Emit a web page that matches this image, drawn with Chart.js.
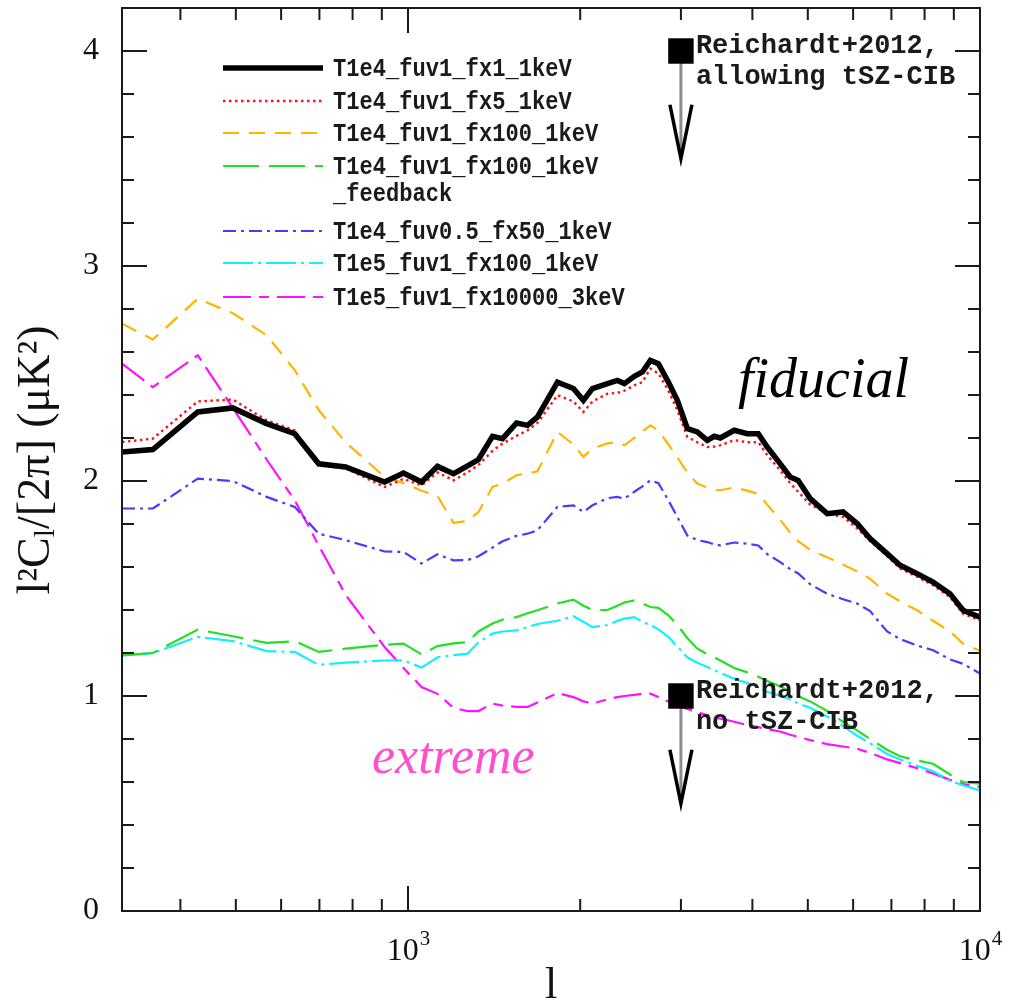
<!DOCTYPE html>
<html>
<head>
<meta charset="utf-8">
<script src="https://cdn.jsdelivr.net/npm/chart.js@4.4.1/dist/chart.umd.min.js"></script>
<style>
html, body { margin: 0; padding: 0; background: #fff; }
</style>
</head>
<body>
<canvas id="myChart" width="1011" height="1005"></canvas>
<script>
// multipole l (shared by all models)
const ell = [316.2, 358, 429, 494, 566, 634, 698, 778, 910, 982,
    1056, 1126, 1201, 1271, 1328, 1405, 1463, 1548, 1618, 1684,
    1825, 1946, 2026, 2101, 2232, 2323, 2389, 2487, 2569, 2653,
    2740, 2852, 2957, 3078, 3204, 3336, 3431, 3515, 3719, 3918,
    4096, 4246, 4473, 4657, 4809, 5048, 5405, 5764, 6098, 6425,
    6880, 7249, 7763, 8278, 8862, 9339, 10000];

const seriesNames = [
    'T1e4_fuv1_fx1_1keV',
    'T1e4_fuv1_fx5_1keV',
    'T1e4_fuv1_fx100_1keV',
    'T1e4_fuv1_fx100_1keV|_feedback',
    'T1e4_fuv0.5_fx50_1keV',
    'T1e5_fuv1_fx100_1keV',
    'T1e5_fuv1_fx10000_3keV',
];

const fx1 = [2.135, 2.146, 2.321, 2.340, 2.267, 2.220, 2.080, 2.065, 1.995, 2.037,
    1.995, 2.068, 2.034, 2.070, 2.100, 2.208, 2.197, 2.270, 2.259, 2.298,
    2.460, 2.430, 2.375, 2.430, 2.453, 2.468, 2.453, 2.487, 2.507, 2.561,
    2.546, 2.460, 2.375, 2.244, 2.228, 2.189, 2.208, 2.200, 2.236, 2.220,
    2.220, 2.158, 2.081, 2.019, 2.003, 1.918, 1.848, 1.856, 1.802, 1.732,
    1.662, 1.608, 1.569, 1.530, 1.476, 1.399, 1.367];

const fx5 = [2.181, 2.197, 2.370, 2.379, 2.282, 2.235, 2.073, 2.059, 1.972, 2.010,
    1.980, 2.040, 2.003, 2.040, 2.075, 2.140, 2.174, 2.210, 2.236, 2.270,
    2.399, 2.370, 2.321, 2.370, 2.406, 2.410, 2.420, 2.445, 2.460, 2.523,
    2.500, 2.420, 2.330, 2.205, 2.180, 2.158, 2.160, 2.166, 2.190, 2.180,
    2.181, 2.120, 2.050, 1.990, 1.950, 1.890, 1.850, 1.833, 1.780, 1.720,
    1.650, 1.593, 1.555, 1.515, 1.460, 1.383, 1.352];

const fx100 = [2.732, 2.658, 2.848, 2.780, 2.678, 2.515, 2.330, 2.180, 2.019, 1.990,
    1.955, 1.930, 1.805, 1.814, 1.856, 1.972, 1.988, 2.027, 2.035, 2.045,
    2.228, 2.170, 2.112, 2.151, 2.175, 2.181, 2.166, 2.200, 2.230, 2.259,
    2.235, 2.170, 2.110, 2.040, 1.988, 1.970, 1.960, 1.957, 1.970, 1.955,
    1.940, 1.890, 1.820, 1.760, 1.720, 1.680, 1.645, 1.610, 1.580, 1.545,
    1.476, 1.440, 1.399, 1.350, 1.300, 1.244, 1.210];

const fx100Feedback = [1.189, 1.200, 1.309, 1.278, 1.247, 1.255, 1.205, 1.220, 1.238, 1.244,
    1.194, 1.232, 1.245, 1.251, 1.300, 1.337, 1.355, 1.367, 1.385, 1.399,
    1.430, 1.448, 1.420, 1.400, 1.400, 1.420, 1.435, 1.445, 1.430, 1.414,
    1.410, 1.375, 1.330, 1.270, 1.220, 1.195, 1.180, 1.165, 1.130, 1.110,
    1.090, 1.070, 1.045, 1.020, 1.000, 0.975, 0.930, 0.880, 0.840, 0.800,
    0.750, 0.720, 0.700, 0.685, 0.635, 0.600, 0.592];

const fuv05fx50 = [1.872, 1.872, 2.011, 2.000, 1.926, 1.879, 1.755, 1.725, 1.672, 1.670,
    1.616, 1.659, 1.631, 1.632, 1.650, 1.690, 1.720, 1.745, 1.755, 1.771,
    1.880, 1.887, 1.856, 1.887, 1.920, 1.926, 1.918, 1.950, 1.975, 2.003,
    1.990, 1.910, 1.833, 1.747, 1.725, 1.716, 1.705, 1.701, 1.714, 1.708,
    1.700, 1.660, 1.623, 1.590, 1.570, 1.520, 1.475, 1.450, 1.430, 1.395,
    1.300, 1.265, 1.235, 1.213, 1.170, 1.150, 1.105];

const t1e5fx100 = [1.189, 1.200, 1.275, 1.255, 1.209, 1.205, 1.145, 1.155, 1.165, 1.166,
    1.132, 1.180, 1.190, 1.197, 1.250, 1.290, 1.300, 1.305, 1.320, 1.335,
    1.350, 1.371, 1.345, 1.320, 1.330, 1.350, 1.360, 1.367, 1.345, 1.330,
    1.310, 1.275, 1.230, 1.180, 1.155, 1.135, 1.120, 1.108, 1.080, 1.060,
    1.040, 1.020, 1.000, 0.985, 0.965, 0.945, 0.905, 0.860, 0.815, 0.780,
    0.730, 0.705, 0.675, 0.650, 0.605, 0.585, 0.561];

const t1e5fx10000 = [2.546, 2.437, 2.585, 2.340, 2.100, 1.910, 1.700, 1.470, 1.228, 1.130,
    1.042, 1.010, 0.945, 0.930, 0.930, 0.965, 0.955, 0.949, 0.949, 0.970,
    1.014, 0.995, 0.975, 0.965, 0.985, 0.995, 1.000, 1.005, 1.011, 1.011,
    0.995, 0.974, 0.955, 0.940, 0.925, 0.910, 0.900, 0.895, 0.880, 0.865,
    0.855, 0.845, 0.835, 0.820, 0.810, 0.795, 0.776, 0.765, 0.755, 0.735,
    0.705, 0.688, 0.664, 0.640, 0.610, 0.590, 0.577];

// Reichardt+2012 upper limits
const limitL = [3000, 3000];
const limitV = [4.0, 1.0];
const limitText = [['Reichardt+2012,', 'allowing tSZ-CIB'], ['Reichardt+2012,', 'no tSZ-CIB']];
const arrowLen = 0.5;
const headLen = 0.25;

const yTickValues = [0, 1, 2, 3, 4];
const xTickLabels = [[1000, '3'], [10000, '4']];

const series = [fx1, fx5, fx100, fx100Feedback, fuv05fx50, t1e5fx100, t1e5fx10000];
const styles = [
    { color: '#000000', width: 5.5, dash: [] },
    { color: '#ff1010', width: 2.4, dash: [2.5, 3.5] },
    { color: '#ffb400', width: 2.2, dash: [16, 10] },
    { color: '#22e022', width: 2.2, dash: [36, 10] },
    { color: '#5533ff', width: 2.2, dash: [13, 5, 3, 5] },
    { color: '#10f0ff', width: 2.2, dash: [30, 5, 3, 5] },
    { color: '#ff10ff', width: 2.2, dash: [28, 8, 10, 8] },
];

const datasets = series.map((s, i) => ({
    label: seriesNames[i].replace('|', ''),
    data: ell.map((l, j) => ({ x: l, y: s[j] })),
    borderColor: styles[i].color,
    borderWidth: styles[i].width,
    borderDash: styles[i].dash,
    pointRadius: 0,
    fill: false,
    tension: 0,
}));
datasets.unshift({
    label: 'Reichardt+2012',
    data: limitL.map((l, i) => ({ x: l, y: limitV[i] })),
    showLine: false,
    pointStyle: 'rect',
    pointRadius: 18,
    backgroundColor: '#000',
    borderWidth: 0,
    clip: false,
});

// legend rows (pixel rows of the legend box)
const legendRows = [68, 101, 133, 166, 231, 263, 297];

const decor = {
    id: 'decor',
    beforeDatasetsDraw(chart) {
        const { ctx, scales: { x, y } } = chart;
        ctx.save();
        limitL.forEach((l, i) => {
            const px = x.getPixelForValue(l);
            const top = y.getPixelForValue(limitV[i]);
            const tip = y.getPixelForValue(limitV[i] - arrowLen);
            const head = y.getPixelForValue(limitV[i] - arrowLen + headLen);
            ctx.strokeStyle = '#8c8c8c';
            ctx.lineWidth = 3;
            ctx.beginPath(); ctx.moveTo(px, top); ctx.lineTo(px, tip - 6); ctx.stroke();
            ctx.strokeStyle = '#000';
            ctx.lineWidth = 3.5;
            ctx.beginPath(); ctx.moveTo(px - 11, head); ctx.lineTo(px, tip); ctx.lineTo(px + 11, head); ctx.stroke();
        });
        ctx.restore();
    },
    afterDraw(chart) {
        const { ctx, chartArea: a, scales: { x, y } } = chart;
        ctx.save();
        // frame
        ctx.strokeStyle = '#1a1a1a';
        ctx.lineWidth = 2;
        ctx.strokeRect(a.left, a.top, a.right - a.left, a.bottom - a.top);
        // inward ticks, mirrored
        ctx.beginPath();
        [100, 1000].forEach(dec => {
            for (let m = 1; m <= 9; m++) {
                const v = m * dec;
                if (v <= x.min || v >= x.max) continue;
                const px = x.getPixelForValue(v), len = m === 1 ? 25 : 12;
                ctx.moveTo(px, a.bottom); ctx.lineTo(px, a.bottom - len);
                ctx.moveTo(px, a.top); ctx.lineTo(px, a.top + len);
            }
        });
        for (let k = 1; k <= 20; k++) {
            const py = y.getPixelForValue(k / 5), len = k % 5 === 0 ? 25 : 12;
            ctx.moveTo(a.left, py); ctx.lineTo(a.left + len, py);
            ctx.moveTo(a.right, py); ctx.lineTo(a.right - len, py);
        }
        ctx.stroke();

        // x tick labels 10^n
        ctx.fillStyle = '#111';
        ctx.textBaseline = 'alphabetic';
        xTickLabels.forEach(([v, e]) => {
            const px = x.getPixelForValue(v);
            ctx.font = '32px "Liberation Serif"';
            const w1 = ctx.measureText('10').width;
            ctx.font = '21px "Liberation Serif"';
            const w2 = ctx.measureText(e).width;
            const x0 = px - (w1 + w2) / 2;
            ctx.font = '32px "Liberation Serif"';
            ctx.textAlign = 'left';
            ctx.fillText('10', x0, a.bottom + 49);
            ctx.font = '21px "Liberation Serif"';
            ctx.fillText(e, x0 + w1 + 1, a.bottom + 34);
        });

        // x title
        ctx.font = '44px "Liberation Serif"';
        ctx.textAlign = 'center';
        ctx.fillText('l', (a.left + a.right) / 2, a.bottom + 87);

        // y title
        ctx.save();
        ctx.translate(37, 460);
        ctx.rotate(-Math.PI / 2);
        const big = '46px "Liberation Serif"', small = '30px "Liberation Serif"';
        const parts = [['l²C', big, 0], ['l', small, 9], ['/[2π] (μK²)', big, 0]];
        let tw = 0;
        parts.forEach(p => { ctx.font = p[1]; tw += ctx.measureText(p[0]).width; });
        let cx = -tw / 2;
        ctx.textAlign = 'left';
        ctx.textBaseline = 'middle';
        parts.forEach(p => {
            ctx.font = p[1];
            ctx.fillText(p[0], cx, p[2]);
            cx += ctx.measureText(p[0]).width;
        });
        ctx.restore();

        // legend
        ctx.textAlign = 'left';
        ctx.textBaseline = 'middle';
        series.forEach((s, i) => {
            const ly = legendRows[i];
            ctx.strokeStyle = styles[i].color;
            ctx.lineWidth = styles[i].width;
            ctx.setLineDash(styles[i].dash);
            ctx.beginPath(); ctx.moveTo(223, ly); ctx.lineTo(323, ly); ctx.stroke();
            ctx.setLineDash([]);
            const lines = seriesNames[i].split('|');
            lines.forEach((t, k) => {
                ctx.save();
                ctx.translate(333, ly + k * 27);
                ctx.scale(0.85, 1);
                ctx.font = 'bold 26px "Liberation Mono"';
                ctx.fillStyle = '#1a1a1a';
                ctx.fillText(t, 0, 1);
                ctx.restore();
            });
        });

        // limit labels
        ctx.font = 'bold 27px "Liberation Mono"';
        ctx.textBaseline = 'alphabetic';
        ctx.fillStyle = '#1a1a1a';
        limitL.forEach((l, i) => {
            const px = x.getPixelForValue(l) + 15;
            const py = y.getPixelForValue(limitV[i]) + 2;
            ctx.fillText(limitText[i][0], px, py);
            ctx.fillText(limitText[i][1], px, py + 31);
        });

        // model family labels
        ctx.font = 'italic 56px "Liberation Serif"';
        ctx.fillStyle = '#000';
        ctx.fillText('fiducial', 738, 397);
        ctx.font = 'italic 52px "Liberation Serif"';
        ctx.fillStyle = '#ff4fcf';
        ctx.fillText('extreme', 372, 773);
        ctx.restore();
    }
};

const ctx = document.getElementById('myChart').getContext('2d');
const myChart = new Chart(ctx, {
    type: 'line',
    data: { datasets: datasets },
    options: {
        responsive: false,
        animation: false,
        events: [],
        layout: { autoPadding: false, padding: { top: 8, right: 31, left: 0, bottom: 0 } },
        plugins: { legend: { display: false }, tooltip: { enabled: false } },
        scales: {
            x: {
                type: 'logarithmic',
                min: 316.2,
                max: 10000,
                grid: { display: false, drawTicks: false },
                border: { display: false },
                ticks: { display: false },
                afterFit: s => { s.height = 94; s.paddingLeft = 0; s.paddingRight = 0; },
            },
            y: {
                min: 0,
                max: 4.2,
                grid: { display: false, drawTicks: false },
                border: { display: false },
                afterBuildTicks: s => { s.ticks = yTickValues.map(v => ({ value: v })); },
                ticks: {
                    padding: 23,
                    color: '#111',
                    font: { family: 'Liberation Serif', size: 32 },
                },
                afterFit: s => { s.width = 122; s.paddingTop = 0; s.paddingBottom = 0; },
            }
        }
    },
    plugins: [decor]
});
</script>
</body>
</html>
